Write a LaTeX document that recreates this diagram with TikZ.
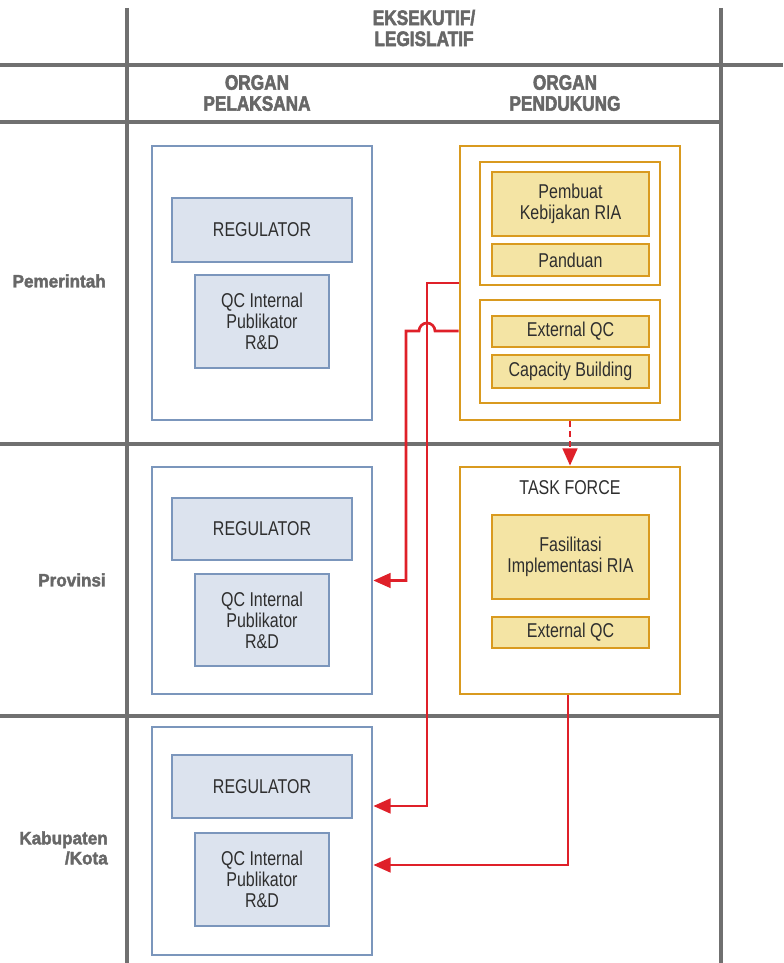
\documentclass[tikz,border=0pt]{standalone}
\usepackage{fontspec}
\setmainfont{Liberation Sans}[FakeStretch=0.8]
\newfontfamily\hdfont{Liberation Sans Bold}[FakeStretch=0.82, FakeBold=2.5]
\newfontfamily\rowfont{Liberation Sans Bold}[FakeStretch=0.95, FakeBold=2]
\usetikzlibrary{arrows.meta}
\definecolor{gridgray}{HTML}{707070}
\definecolor{hdgray}{HTML}{676767}
\definecolor{bluebd}{HTML}{7B96BC}
\definecolor{bluefill}{HTML}{DCE3EE}
\definecolor{orbd}{HTML}{D99A1F}
\definecolor{orfill}{HTML}{F4E4A4}
\definecolor{redc}{HTML}{DF2029}
\definecolor{txtc}{HTML}{2E2E2E}
\newcommand\bxfont{\fontsize{15}{15.75}\selectfont}
\newcommand\hdtxt{\hdfont\fontsize{15.75}{15.75}\selectfont}
\newcommand\rowtxt{\rowfont\fontsize{13.5}{15}\selectfont}
\tikzset{
  wh/.style 2 args={minimum width=#1*0.75pt, minimum height=#2*0.75pt},
  gridline/.style={draw=gridgray, line width=2.4pt},
  blueouter/.style={draw=bluebd, line width=2pt, fill=white, inner sep=0pt},
  bluebox/.style={draw=bluebd, line width=2pt, fill=bluefill, text=txtc, align=center, font=\bxfont, inner sep=0pt},
  orouter/.style={draw=orbd, line width=2pt, fill=white, inner sep=0pt},
  orbox/.style={draw=orbd, line width=2pt, fill=orfill, text=txtc, align=center, font=\bxfont, inner sep=0pt},
  hdlabel/.style={text=hdgray, align=center, font=\hdtxt, inner sep=0pt},
  rowlabel/.style={text=hdgray, align=right, font=\rowtxt, inner sep=0pt, anchor=east},
  redline/.style={draw=redc, line width=2pt},
  redarrow/.style={redline, -{Triangle[length=13pt,width=11pt]}},
}
\begin{document}
\begin{tikzpicture}[x=0.75pt,y=-0.75pt]
\useasboundingbox (0,0) rectangle (783,963);
% grid
\draw[gridline] (127,8) -- (127,963);
\draw[gridline] (721,8) -- (721,963);
\draw[gridline] (0,65) -- (783,65);
\draw[gridline] (0,122) -- (721,122);
\draw[gridline] (0,444) -- (721,444);
\draw[gridline] (0,716) -- (721,716);
% headers
\node[hdlabel] (hexec) at (424,28) {EKSEKUTIF/\\LEGISLATIF};
\node[hdlabel] (hpel) at (257,93) {ORGAN\\PELAKSANA};
\node[hdlabel] (hpen) at (565,93) {ORGAN\\PENDUKUNG};
% row labels
\node[rowlabel] (rpem) at (106,281) {Pemerintah};
\node[rowlabel] (rprov) at (106,580) {Provinsi};
\node[rowlabel] (rkab) at (108,848) {Kabupaten\\/Kota};
% left column
\node[blueouter, wh={220}{274}] (po) at (262,283) {};
\node[bluebox, wh={180}{64}] (preg) at (262,230) {REGULATOR};
\node[bluebox, wh={134}{93}] (pqc) at (262,321.5) {QC Internal\\Publikator\\R\&D};
\node[blueouter, wh={220}{227}] (pr) at (262,580.5) {};
\node[bluebox, wh={180}{62}] (prreg) at (262,529) {REGULATOR};
\node[bluebox, wh={134}{92}] (prqc) at (262,620) {QC Internal\\Publikator\\R\&D};
\node[blueouter, wh={220}{228}] (ko) at (262,841) {};
\node[bluebox, wh={180}{63}] (kreg) at (262,786.5) {REGULATOR};
\node[bluebox, wh={134}{93}] (kqc) at (262,879.5) {QC Internal\\Publikator\\R\&D};
% right column
\node[orouter, wh={220}{274}] (oo) at (570,283) {};
\node[orouter, wh={180}{123}] (og1) at (570,223.5) {};
\node[orbox, wh={157}{64}] (pemb) at (570.5,204) {Pembuat\\Kebijakan RIA};
\node[orbox, wh={157}{32}] (pand) at (570.5,260) {Panduan};
\node[orouter, wh={180}{103}] (og2) at (570,351.5) {};
\node[orbox, wh={157}{31}] (eqc) at (570.5,331.5) {External QC};
\node[orbox, wh={157}{33}] (capb) at (570.5,371.5) {Capacity Building};
\node[orouter, wh={220}{227}] (tf) at (570,580.5) {};
\node[text=txtc, font=\bxfont, inner sep=0pt] (tflab) at (570,488) {TASK FORCE};
\node[orbox, wh={157}{84}] (fas) at (570.5,557) {Fasilitasi\\Implementasi RIA};
\node[orbox, wh={157}{31}] (eqc2) at (570.5,632.5) {External QC};
% connectors
\coordinate (a1) at (427,806);
\coordinate (a2) at (406,331);
\coordinate (a3) at (568,865);
\draw[redarrow] (oo.west) -| (a1) -- (ko.east |- a1);
\draw[redarrow] (oo.west |- a2) -- (435,331) arc[start angle=0, end angle=180, radius=6pt] -- (a2) |- (pr.east);
\draw[redarrow] (a3 |- tf.south) -- (a3) -- (ko.east |- a3);
\draw[redarrow, dash pattern=on 4.5pt off 3pt] (oo.south) -- (tf.north);
\end{tikzpicture}
\end{document}
